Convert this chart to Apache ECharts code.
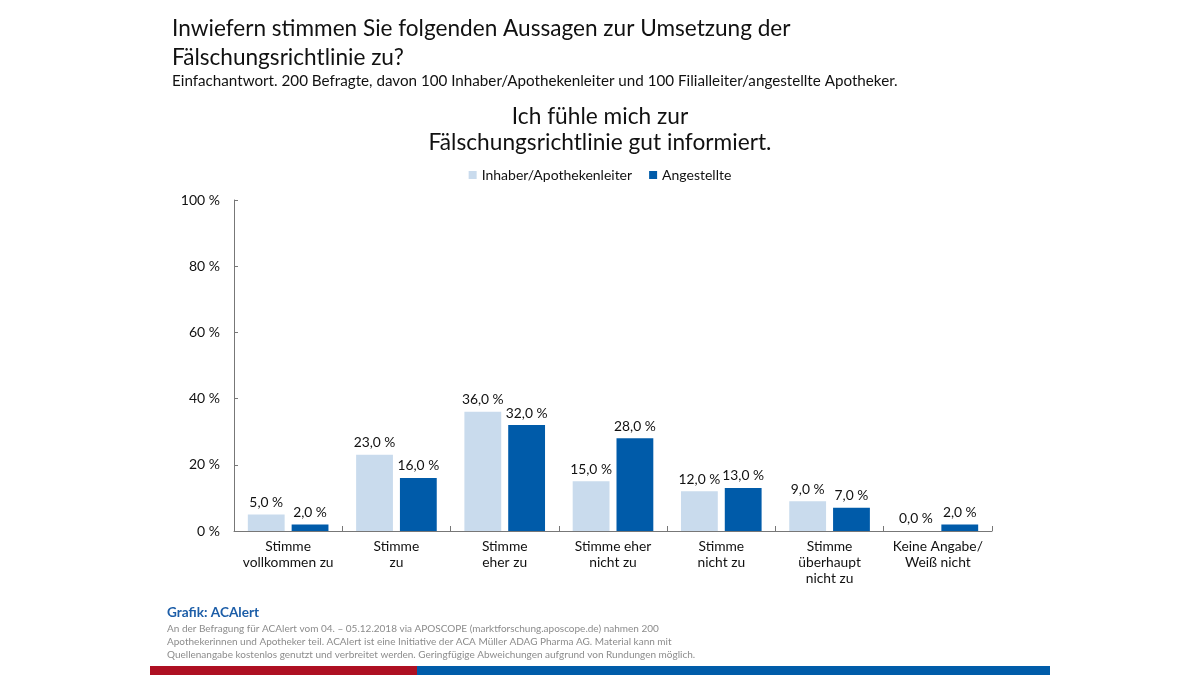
<!DOCTYPE html>
<html>
<head>
<meta charset="utf-8">
<script src="https://cdn.jsdelivr.net/npm/echarts@6/dist/echarts.min.js"></script>
<style>
html,body{margin:0;padding:0;background:#fff;}
#c{width:1200px;height:675px;}
</style>
</head>
<body>
<div id="c"></div>
<script>
const categories = ["Stimme\nvollkommen zu","Stimme\nzu","Stimme\neher zu","Stimme eher\nnicht zu","Stimme\nnicht zu","Stimme\nüberhaupt\nnicht zu","Keine Angabe/\nWeiß nicht"];
const seriesNames = ["Inhaber/Apothekenleiter","Angestellte"];
const inhaber = [5,23,36,15,12,9,0];
const angestellte = [2,16,32,28,13,7,2];
const yTicks = [0,20,40,60,80,100];

const titleLines = ["Inwiefern stimmen Sie folgenden Aussagen zur Umsetzung der","Fälschungsrichtlinie zu?"];
const subtitle = "Einfachantwort. 200 Befragte, davon 100 Inhaber/Apothekenleiter und 100 Filialleiter/angestellte Apotheker.";
const chartTitleLines = ["Ich fühle mich zur","Fälschungsrichtlinie gut informiert."];
const sourceTitle = "Grafik: ACAlert";
const footerLines = ["An der Befragung für ACAlert vom 04. – 05.12.2018 via APOSCOPE (marktforschung.aposcope.de) nahmen 200",
  "Apothekerinnen und Apotheker teil. ACAlert ist eine Initiative der ACA Müller ADAG Pharma AG. Material kann mit",
  "Quellenangabe kostenlos genutzt und verbreitet werden. Geringfügige Abweichungen aufgrund von Rundungen möglich."];

const font = "Lato, 'Noto Sans', sans-serif";
const chart = echarts.init(document.getElementById('c'));
const labelFmt = p => p.value.toFixed(1).replace('.', ',') + ' %';

function txt(text, x, y, size, opts) {
  opts = opts || {};
  return {type:'text', style:{text:text, x:x, y:y, fill:opts.color||'#111',
    font:(opts.weight||'normal')+' '+size+'px '+font, textAlign:opts.align||'left', textVerticalAlign:'middle'}};
}

const graphics = [
  txt(titleLines[0],172,29,22.6),
  txt(titleLines[1],172,58,22.6),
  txt(subtitle,172,81,15.2),
  txt(chartTitleLines[0],600,117,22.7,{align:'center'}),
  txt(chartTitleLines[1],600,143,22.7,{align:'center'}),
  txt(sourceTitle,167,613,13.6,{weight:'bold',color:'#1d5ea8'}),
  txt(footerLines[0],167,629,10,{color:'#8c8c8c'}),
  txt(footerLines[1],167,642,10,{color:'#8c8c8c'}),
  txt(footerLines[2],167,655,10,{color:'#8c8c8c'}),
  {type:'rect', shape:{x:150,y:666,width:267,height:9}, style:{fill:'#ae1022'}},
  {type:'rect', shape:{x:417,y:666,width:633,height:9}, style:{fill:'#005ca9'}}
];

chart.setOption({
  animation:false,
  textStyle:{fontFamily:font},
  legend:{data:seriesNames, top:163, left:'center', itemWidth:8, itemHeight:8, itemGap:17,
    textStyle:{fontFamily:font,fontSize:14,color:'#111'}, icon:'rect'},
  grid:{left:234, right:208, top:200, bottom:144, containLabel:false},
  xAxis:{type:'category', data:categories,
    axisLine:{lineStyle:{color:'#777'}},
    axisTick:{show:true, length:5, inside:true, lineStyle:{color:'#777'}},
    axisLabel:{fontFamily:font,fontSize:13.8,color:'#111',lineHeight:16,margin:8,interval:0}},
  yAxis:{type:'value', min:0, max:100, interval:20,
    axisLine:{show:true,lineStyle:{color:'#777'}},
    axisTick:{show:true,length:4,inside:true,lineStyle:{color:'#777'}},
    splitLine:{show:false},
    axisLabel:{fontFamily:font,fontSize:14,color:'#111',margin:14,formatter:v=>yTicks.includes(v)?v+' %':''}},
  series:[
    {name:seriesNames[0], type:'bar', data:inhaber, barWidth:'34%', barGap:'19%',
     itemStyle:{color:'#c9dbed'},
     label:{show:true,position:'top',formatter:labelFmt,fontFamily:font,fontSize:13.8,color:'#111',distance:5}},
    {name:seriesNames[1], type:'bar', data:angestellte, barWidth:'34%',
     itemStyle:{color:'#005ba9'},
     label:{show:true,position:'top',formatter:labelFmt,fontFamily:font,fontSize:13.8,color:'#111',distance:5}}
  ],
  graphic:graphics
});
</script>
</body>
</html>
